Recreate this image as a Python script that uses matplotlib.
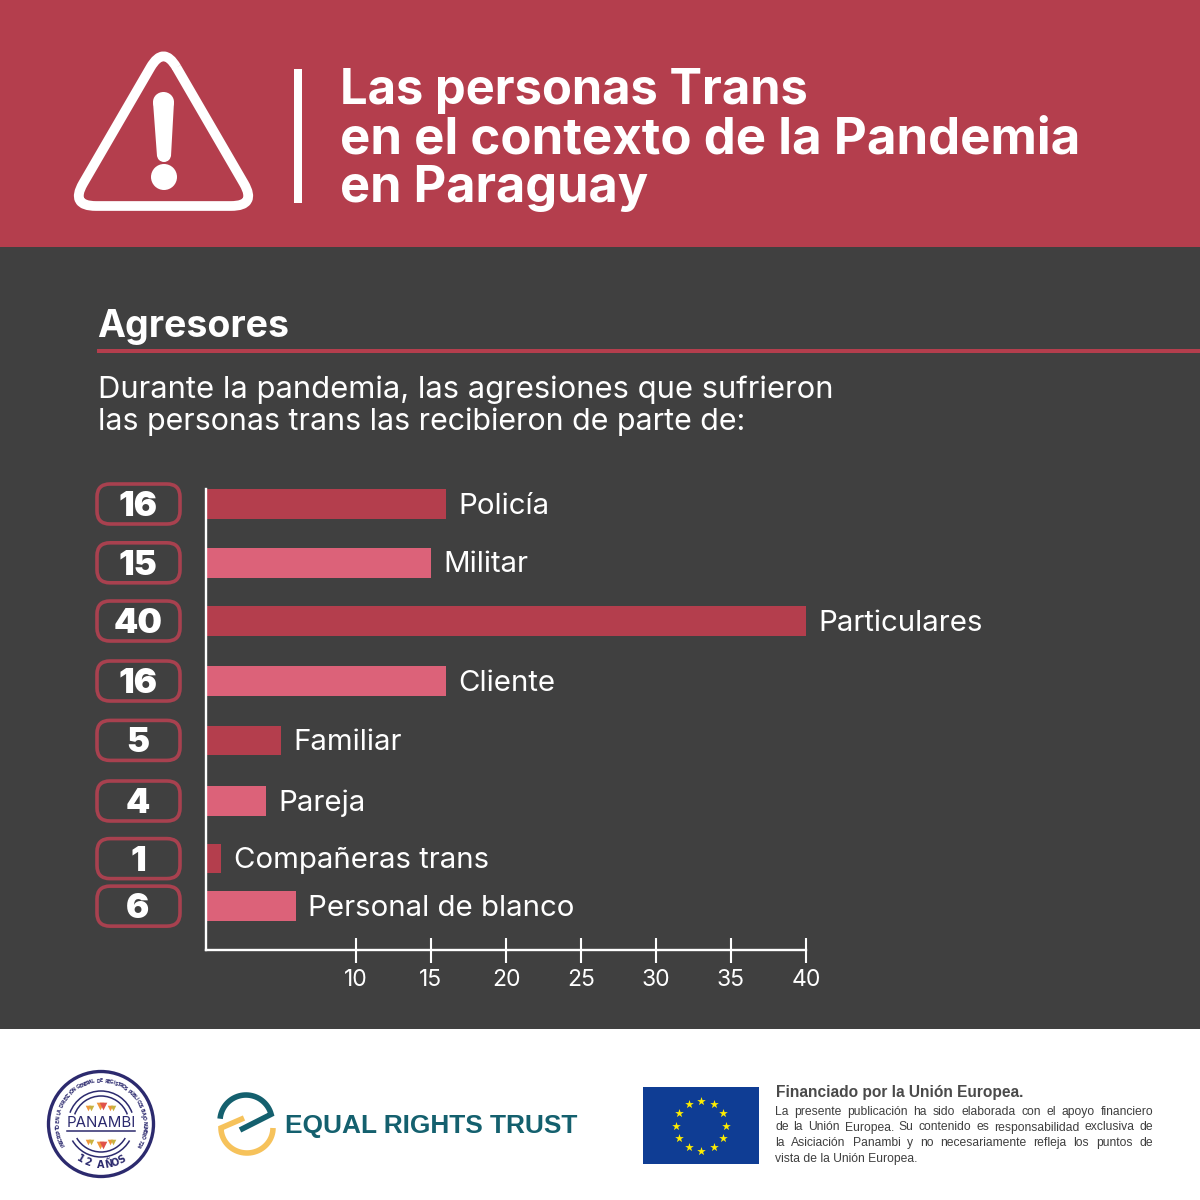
import numpy as np
import matplotlib
matplotlib.use("Agg")
import matplotlib.pyplot as plt
from matplotlib.patches import FancyBboxPatch, Rectangle, Circle, Ellipse, Arc, PathPatch, Polygon
from matplotlib.path import Path

categories = ["Policía", "Militar", "Particulares", "Cliente", "Familiar", "Pareja",
              "Compañeras trans", "Personal de blanco"]
values = [16, 15, 40, 16, 5, 4, 1, 6]
x_ticks = [10, 15, 20, 25, 30, 35, 40]

title_lines = ["Las personas Trans", "en el contexto de la Pandemia", "en Paraguay"]
section = "Agresores"
intro_lines = ["Durante la pandemia, las agresiones que sufrieron",
               "las personas trans las recibieron de parte de:"]
fund_title = "Financiado por la Unión Europea."
fund_lines = ["La presente publicación ha sido elaborada con el apoyo financiero",
              "de la Unión Europea. Su contenido es responsabilidad exclusiva de",
              "la Asiciación Panambi y no necesariamente refleja los puntos de",
              "vista de la Unión Europea."]

RED = "#B43E4D"
PINK = "#DC6279"
DARK = "#404040"
FONT = "Inter"

fig = plt.figure(figsize=(12, 12), dpi=100, facecolor="white")

# capa en pixeles para todo lo que no es el grafico
bg = fig.add_axes([0, 0, 1, 1])
bg.set_xlim(0, 1200)
bg.set_ylim(1200, 0)
bg.axis("off")

bg.add_patch(Rectangle((0, 0), 1200, 247, color=RED, lw=0))
bg.add_patch(Rectangle((0, 247), 1200, 782, color=DARK, lw=0))


def rounded_triangle(pts, d):
    verts, codes = [], []
    n = len(pts)
    for i in range(n):
        p = np.array(pts[i], float)
        a = np.array(pts[i - 1], float)
        b = np.array(pts[(i + 1) % n], float)
        p1 = p + (a - p) / np.linalg.norm(a - p) * d
        p2 = p + (b - p) / np.linalg.norm(b - p) * d
        verts += [p1, p, p2]
        codes += [Path.MOVETO if i == 0 else Path.LINETO, Path.CURVE3, Path.CURVE3]
    verts.append(verts[0])
    codes.append(Path.LINETO)
    return Path(verts, codes)


# icono de alerta
bg.add_patch(PathPatch(rounded_triangle([(163.5, 45), (70, 206), (257, 206)], 26),
                       fc="none", ec="white", lw=7, joinstyle="round"))
bg.add_patch(Polygon([(153, 102), (174, 102), (171, 156), (157, 156)], fc="white", lw=0))
bg.add_patch(Ellipse((163.5, 102), 21, 20, color="white", lw=0))
bg.add_patch(Circle((164, 155), 7, color="white", lw=0))
bg.add_patch(Circle((164, 177), 13, color="white", lw=0))
bg.add_patch(Rectangle((294, 69), 8, 134, color="white", lw=0))

for line, y, size in zip(title_lines, [91, 140, 189], [35.2, 36.7, 36.4]):
    bg.text(340, y, line, color="white", fontsize=size, fontweight="bold", family=FONT, va="center")

bg.text(97, 327, section, color="white", fontsize=27, fontweight="bold", family=FONT, va="center")
bg.add_patch(Rectangle((97, 349), 1103, 4, color=RED, lw=0))
for line, y, size in zip(intro_lines, [390, 422], [22.3, 21.9]):
    bg.text(98, y, line, color="white", fontsize=size, family=FONT, va="center")

# grafico
left, right, top, bottom = 206, 806, 489, 950
row_step = 59.4
row_first = 504
row_pos = [0, 0.99, 1.97, 2.98, 3.98, 5, 5.97, 6.77]

ax = fig.add_axes([left / 1200, 1 - bottom / 1200, (right - left) / 1200, (bottom - top) / 1200])
ax.set_facecolor("none")
ax.set_xlim(0, 40)
ax.set_ylim((bottom - row_first) / row_step, (top - row_first) / row_step)
colors = [RED if i % 2 == 0 else PINK for i in range(len(values))]
ax.barh(row_pos, values, height=0.5, color=colors, lw=0)
for s in ["top", "right"]:
    ax.spines[s].set_visible(False)
for s in ["left", "bottom"]:
    ax.spines[s].set_color("white")
    ax.spines[s].set_linewidth(1.7)
ax.set_yticks([])
ax.set_xticks(x_ticks)
ax.tick_params(axis="x", direction="inout", length=18, width=1.5, color="white",
               labelcolor="white", labelsize=16.5, pad=5)
for lab in ax.get_xticklabels():
    lab.set_family(FONT)

for pos, val, cat in zip(row_pos, values, categories):
    ax.annotate(cat, (val, pos), xytext=(9, -1.5), textcoords="offset points", color="white",
                fontsize=21.2, family=FONT, va="center", annotation_clip=False)
    yc = row_first + pos * row_step
    bg.add_patch(FancyBboxPatch((106, yc - 11), 65, 22, boxstyle="round,pad=9,rounding_size=13",
                                fc="none", ec="#A8414F", lw=2.6))
    bg.text(138, yc + 3, str(val), color="white", fontsize=25, fontweight=900, family=FONT,
            ha="center", va="center")

# pie blanco: logo Panambi
NAVY = "#2C2A6E"
cx, cy = 101, 1124
bg.add_patch(Ellipse((cx, cy), 105, 105, fc="none", ec=NAVY, lw=2.4))
for w in (66, 56):
    bg.add_patch(Arc((cx, cy), w, w, theta1=200, theta2=340, ec=NAVY, lw=1.1))
    bg.add_patch(Arc((cx, cy), w, w, theta1=30, theta2=150, ec=NAVY, lw=1.1))


def curved(text, r, a0, a1, size, top_side=True):
    angs = np.linspace(a0, a1, len(text))
    for ch, a in zip(text, angs):
        t = np.deg2rad(a)
        x = cx + r * np.cos(t)
        y = cy - r * np.sin(t)
        rot = a - 90 if top_side else a + 90
        bg.text(x, y, ch, fontsize=size, color=NAVY, fontweight="bold", ha="center", va="center",
                rotation=rot, rotation_mode="anchor")


curved("INSCRIPTO EN LA DIRECCIÓN GENERAL DE REGISTROS PÚBLICOS BAJO NÚMERO 724", 43, 210, -30, 3.4)
curved("12 AÑOS", 41, 240, 300, 7, top_side=False)
bg.text(cx, cy - 1, "PANAMBI", fontsize=10.8, color=NAVY, ha="center", va="center", family=FONT)
bg.plot([cx - 34, cx + 34], [cy + 7, cy + 7], color=NAVY, lw=1.1)
for dy, big in ((-16, -2), (18, 3)):
    for dx, off in [(-12, 0), (0, big), (10, 0)]:
        yb = cy + dy + off
        s = 16 if dx else 30
        bg.scatter(cx + dx - 1.5, yb, s=s, c="#F0963C", marker="v", lw=0)
        bg.scatter(cx + dx + 1.5, yb, s=s, c="#E0524A" if dx == 0 else "#C9B23F", marker="v", lw=0)

# logo Equal Rights Trust
TEAL = "#14606E"
YELLOW = "#F6C25B"
t = np.deg2rad(np.linspace(185, 345, 40))
tx = 246 + 26 * np.cos(t)
ty = 1121 + 26 * np.sin(t)
bg.plot(np.r_[tx, 240], np.r_[ty, 1130], color=TEAL, lw=4, solid_capstyle="butt", solid_joinstyle="miter")
t = np.deg2rad(np.linspace(0, 180, 40))
yx = 247 + 26 * np.cos(t)
yy = 1128 + 25 * np.sin(t)
bg.plot(np.r_[yx, 244], np.r_[yy, 1118], color=YELLOW, lw=4, solid_capstyle="butt", solid_joinstyle="miter")
bg.text(285, 1125.5, "EQUAL RIGHTS TRUST", color=TEAL, fontsize=18.9, fontweight="bold",
        family="Liberation Sans", va="center")

# bandera UE
bg.add_patch(Rectangle((643, 1087), 116, 77, color="#0F3D94", lw=0))
ang = np.deg2rad(np.arange(12) * 30)
bg.scatter(701 + 25 * np.cos(ang), 1125.5 + 25 * np.sin(ang), s=42, c="#FFED00", marker="*", lw=0)

bg.text(776, 1093, fund_title, color="#4A4A4A", fontsize=11.2, fontweight="bold",
        family="Liberation Sans", va="center")

# texto justificado a mano
renderer = fig.canvas.get_renderer()
x0, x1 = 775, 1153
for i, (line, y) in enumerate(zip(fund_lines, [1112, 1127.5, 1143, 1159])):
    if i == len(fund_lines) - 1:
        bg.text(x0, y, line, color="#3F3F3F", fontsize=8.7, family="Liberation Sans", va="center")
        continue
    words = line.split()
    arts = [bg.text(x0, y, w, color="#3F3F3F", fontsize=8.7, family="Liberation Sans", va="center")
            for w in words]
    widths = [a.get_window_extent(renderer).width for a in arts]
    gap = (x1 - x0 - sum(widths)) / (len(words) - 1)
    x = x0
    for a, w in zip(arts, widths):
        a.set_x(x)
        x += w + gap

fig.savefig("out.png", dpi=100, facecolor="white")
